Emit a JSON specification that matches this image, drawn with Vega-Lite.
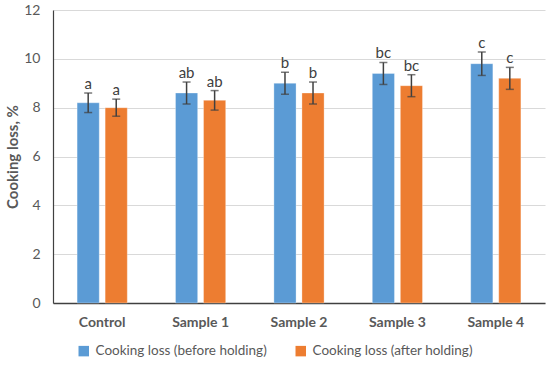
{
  "$schema": "https://vega.github.io/schema/vega-lite/v6.json",
  "width": 492,
  "height": 293,
  "autosize": "none",
  "padding": {"left": 53, "top": 10, "right": 5, "bottom": 64},
  "background": "white",
  "config": {
    "font": "Lato",
    "view": {"stroke": null}
  },
  "data": {
    "values": [
      {"sample": "Control", "series": "Cooking loss (before holding)", "value": 8.2, "err": 0.4, "letter": "a"},
      {"sample": "Control", "series": "Cooking loss (after holding)", "value": 8.0, "err": 0.35, "letter": "a"},
      {"sample": "Sample 1", "series": "Cooking loss (before holding)", "value": 8.6, "err": 0.45, "letter": "ab"},
      {"sample": "Sample 1", "series": "Cooking loss (after holding)", "value": 8.3, "err": 0.4, "letter": "ab"},
      {"sample": "Sample 2", "series": "Cooking loss (before holding)", "value": 9.0, "err": 0.45, "letter": "b"},
      {"sample": "Sample 2", "series": "Cooking loss (after holding)", "value": 8.6, "err": 0.45, "letter": "b"},
      {"sample": "Sample 3", "series": "Cooking loss (before holding)", "value": 9.4, "err": 0.45, "letter": "bc"},
      {"sample": "Sample 3", "series": "Cooking loss (after holding)", "value": 8.9, "err": 0.45, "letter": "bc"},
      {"sample": "Sample 4", "series": "Cooking loss (before holding)", "value": 9.8, "err": 0.48, "letter": "c"},
      {"sample": "Sample 4", "series": "Cooking loss (after holding)", "value": 9.2, "err": 0.45, "letter": "c"}
    ]
  },
  "encoding": {
    "x": {
      "field": "sample", "type": "nominal", "sort": null,
      "scale": {"paddingInner": 0.49, "paddingOuter": 0.245},
      "axis": {
        "title": null, "labelAngle": 0, "labelFontWeight": "bold", "labelFontSize": 14,
        "labelColor": "#595959", "labelPadding": 12, "ticks": false,
        "domainColor": "#404040", "domainWidth": 1.5
      }
    },
    "xOffset": {
      "field": "series", "type": "nominal",
      "sort": ["Cooking loss (before holding)", "Cooking loss (after holding)"],
      "scale": {"paddingInner": 0.21, "paddingOuter": 0}
    }
  },
  "layer": [
    {
      "mark": {"type": "bar", "stroke": "white", "strokeOpacity": 0.3, "strokeWidth": 1},
      "encoding": {
        "y": {
          "field": "value", "type": "quantitative", "stack": null, "title": "Cooking loss, %",
          "scale": {"domain": [0, 12]},
          "axis": {
            "values": [0, 2, 4, 6, 8, 10, 12], "titleFontSize": 15,
            "titleFontWeight": "bold", "titleColor": "#595959", "labelColor": "#595959",
            "labelFontSize": 14, "labelPadding": 13, "ticks": false, "gridColor": "#d9d9d9",
            "domainColor": "#404040", "domainWidth": 1.2, "titlePadding": 3
          }
        },
        "color": {
          "field": "series", "type": "nominal",
          "sort": ["Cooking loss (before holding)", "Cooking loss (after holding)"],
          "scale": {"range": ["#5B9BD5", "#ED7D31"]},
          "legend": {
            "title": null, "orient": "none", "direction": "horizontal",
            "legendX": 24, "legendY": 334, "symbolType": "square", "symbolSize": 110,
            "symbolStrokeWidth": 0, "labelFontSize": 13.5, "labelColor": "#595959",
            "columnPadding": 27, "labelOffset": 5, "labelLimit": 0
          }
        }
      }
    },
    {
      "mark": {"type": "errorbar", "ticks": {"size": 8, "color": "#404040", "thickness": 1.5}, "rule": {"color": "#404040", "strokeWidth": 1.5}},
      "encoding": {
        "y": {"field": "value", "type": "quantitative", "title": "Cooking loss, %"},
        "yError": {"field": "err"}
      }
    },
    {
      "transform": [{"calculate": "datum.value + datum.err", "as": "top"}],
      "mark": {"type": "text", "baseline": "bottom", "dy": -1, "fontSize": 15, "color": "#404040"},
      "encoding": {
        "y": {"field": "top", "type": "quantitative", "title": "Cooking loss, %"},
        "text": {"field": "letter"}
      }
    }
  ]
}
